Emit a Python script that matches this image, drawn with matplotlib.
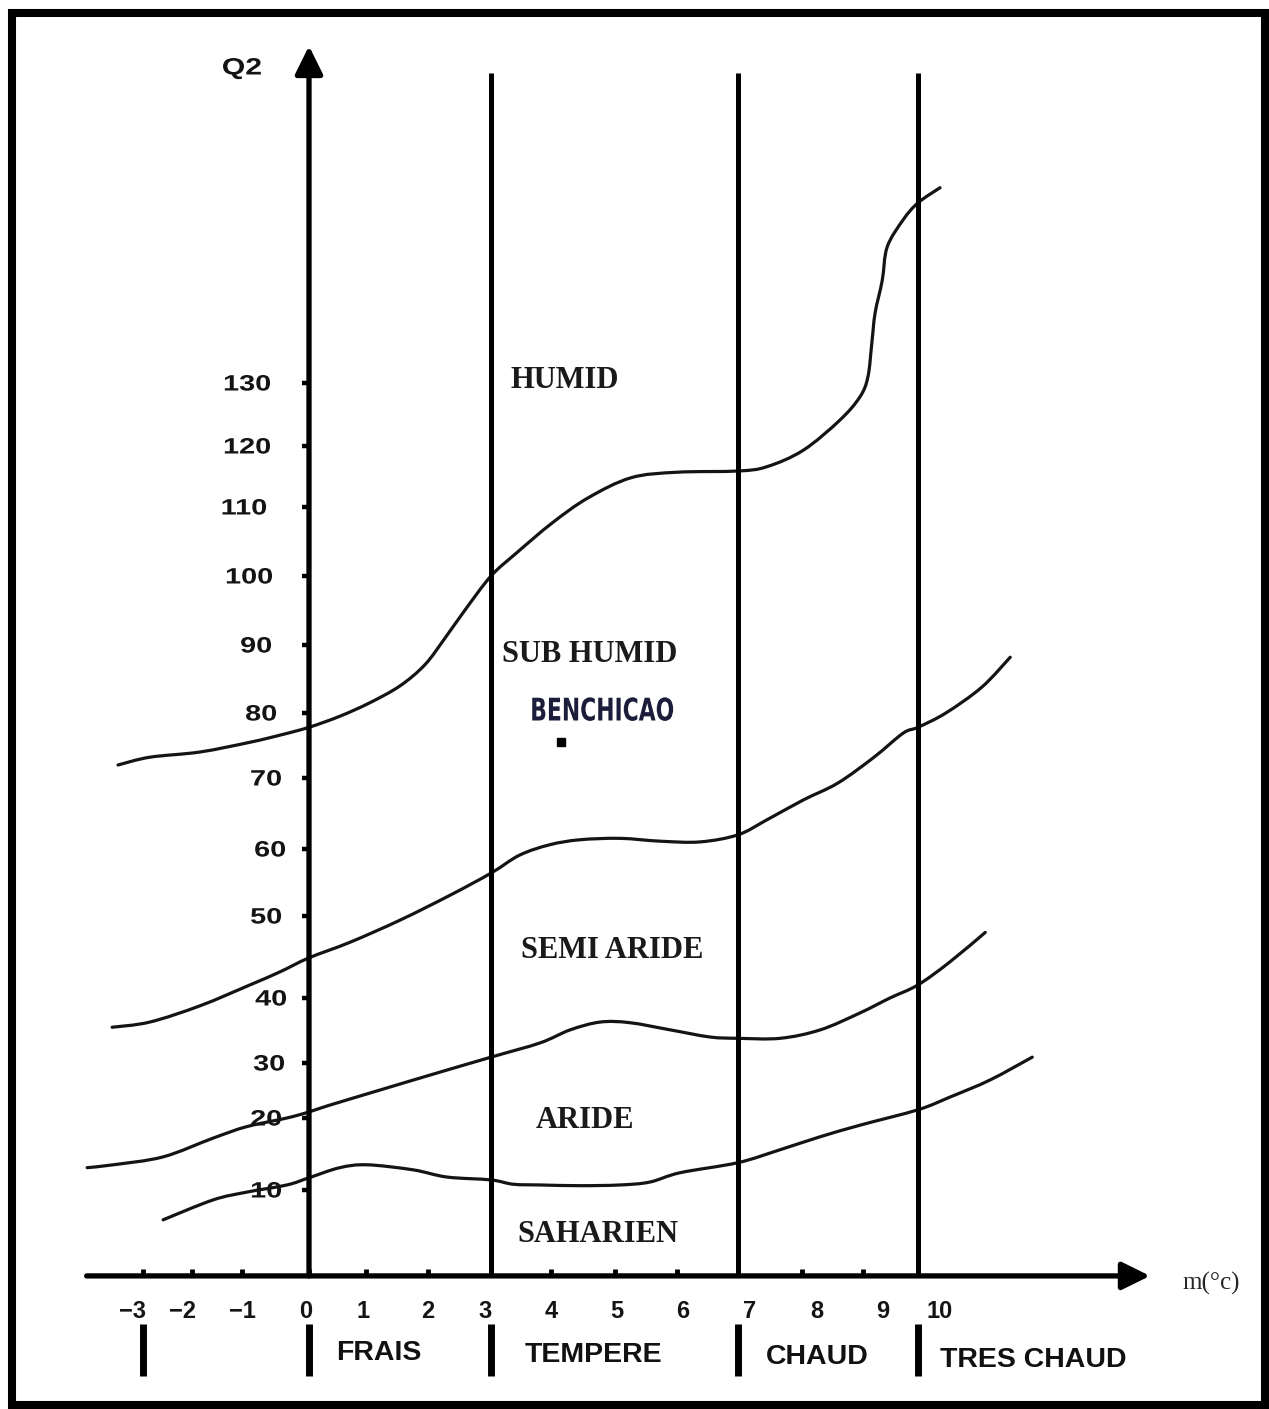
import numpy as np
import matplotlib
matplotlib.use('Agg')
import matplotlib.pyplot as plt
from matplotlib.patches import Rectangle, PathPatch
from matplotlib.path import Path
from matplotlib.patheffects import AbstractPathEffect
from matplotlib.transforms import Affine2D, blended_transform_factory

W, H = 1269, 1409

# climagramme d'Emberger : m (°C) en abscisse, Q2 en ordonnée
humid_m = [-3.51, -2.86, -1.84, -0.88, -0.43, 0.0, 0.54, 1.06, 1.55, 1.95, 2.27, 2.59,
           3.0, 3.42, 4.02, 4.58, 5.26, 6.0, 7.0, 7.45, 8.02, 8.62, 8.95, 9.09, 9.16,
           9.22, 9.35, 9.44, 9.73, 10.0, 10.38]
humid_q = [72.0, 73.2, 74.0, 75.5, 76.6, 77.8, 79.5, 81.5, 84.0, 87.1, 91.0, 95.1,
           100.0, 103.3, 107.7, 111.5, 114.8, 115.7, 115.9, 116.6, 119.3, 124.1, 127.8,
           131.0, 136.3, 141.1, 146.3, 151.6, 155.9, 158.6, 161.0]

subhumid_m = [-3.63, -2.86, -1.84, -0.88, -0.43, 0.0, 0.72, 1.55, 2.35, 3.0, 3.48, 3.98,
              4.45, 5.08, 5.73, 6.38, 7.0, 7.45, 8.02, 8.59, 9.2, 9.73, 10.0, 10.48,
              11.1, 11.59]
subhumid_q = [35.5, 36.3, 38.8, 41.6, 43.2, 44.9, 46.8, 49.5, 53.1, 56.4, 59.1, 60.6,
              61.3, 61.5, 61.1, 61.0, 62.0, 64.1, 66.9, 69.3, 73.2, 76.9, 77.8, 80.0,
              83.8, 88.2]

semiarid_m = [-4.14, -3.61, -2.59, -1.58, -0.93, -0.33, 0.0, 0.32, 1.23, 2.03, 3.0, 3.82,
              4.3, 4.77, 5.24, 5.89, 6.54, 7.0, 7.66, 8.3, 8.95, 9.49, 10.0, 10.55, 11.16]
semiarid_q = [13.1, 13.5, 14.6, 17.2, 18.8, 20.0, 21.1, 22.2, 25.1, 27.8, 30.9, 33.1,
              35.1, 36.3, 36.2, 35.1, 34.0, 33.8, 33.8, 35.1, 37.7, 40.0, 41.6, 44.4, 48.0]

arid_m = [-2.59, -1.58, -0.93, -0.33, 0.0, 0.54, 1.02, 1.76, 2.3, 3.0, 3.37, 3.82, 4.45,
          5.08, 5.56, 6.05, 7.0, 7.66, 8.3, 8.95, 10.0, 10.55, 11.24, 11.97]
arid_q = [5.8, 8.6, 9.7, 10.7, 11.7, 13.1, 13.5, 12.8, 11.8, 11.4, 10.8, 10.7, 10.6,
          10.7, 11.1, 12.4, 13.8, 15.6, 17.4, 19.0, 21.5, 23.8, 26.9, 30.9]

station_name = 'BENCHICAO'
station_m = 4.16
station_q = 75.5

q_ticks = [10, 20, 30, 40, 50, 60, 70, 80, 90, 100, 110, 120, 130]
m_ticks = [-3, -2, -1, 0, 1, 2, 3, 4, 5, 6, 7, 8, 9, 10]
m_labels = ['\u22123', '\u22122', '\u22121', '0', '1', '2', '3', '4', '5', '6', '7', '8', '9', '10']
winter_bounds = [0, 3, 7, 10]
bar_bounds = [-3, 0, 3, 7, 10]

zone_names = ['HUMID', 'SUB HUMID', 'SEMI ARIDE', 'ARIDE', 'SAHARIEN']
winter_names = ['FRAIS', 'TEMPERE', 'CHAUD', 'TRES CHAUD']

# graduations tracées à la main : espacement irrégulier
m_knots = np.array([-10, -3, -2, -1, 0, 1, 2, 3, 4, 5, 6, 7, 8, 9, 10, 25], dtype=float)
x_knots = np.array([-200, 143, 192, 242, 309, 366, 428, 491, 551, 615, 677, 738, 802,
                    863, 918, 1788], dtype=float)
q_knots = np.array([-40, 10, 20, 30, 40, 50, 60, 70, 80, 90, 100, 110, 120, 130, 260],
                   dtype=float)
y_knots = np.array([1545, 1190, 1118, 1063, 998, 916, 849, 778, 713, 645, 576, 507, 446,
                    383, -436], dtype=float)


def fx(m):
    return np.interp(m, m_knots, x_knots)


def fx_inv(p):
    return np.interp(p, x_knots, m_knots)


def fy(q):
    return np.interp(q, q_knots, -y_knots)


def fy_inv(p):
    return np.interp(p, -y_knots, q_knots)


class Stretch(AbstractPathEffect):
    """Élargit ou resserre le texte horizontalement."""

    def __init__(self, sx, anchor='center'):
        super().__init__()
        self.sx = sx
        self.anchor = anchor

    def draw_path(self, renderer, gc, tpath, affine, rgbFace=None):
        ext = affine.transform_path(tpath).get_extents()
        x0 = ext.x1 if self.anchor == 'right' else (ext.x0 + ext.x1) / 2
        aff = affine + Affine2D().translate(-x0, 0).scale(self.sx, 1).translate(x0, 0)
        renderer.draw_path(gc, tpath, aff, rgbFace)


def smooth_curve(xs, ys):
    # courbe lisse (Catmull-Rom) passant par les points, calculée dans l'espace de l'échelle
    p = np.column_stack([fx(np.asarray(xs)), fy(np.asarray(ys))])
    verts = [p[0]]
    codes = [Path.MOVETO]
    n = len(p)
    for i in range(n - 1):
        p0, p1, p2, p3 = p[max(i - 1, 0)], p[i], p[i + 1], p[min(i + 2, n - 1)]
        verts += [p1 + (p2 - p0) / 6, p2 - (p3 - p1) / 6, p2]
        codes += [Path.CURVE4] * 3
    verts = np.array(verts)
    return Path(np.column_stack([fx_inv(verts[:, 0]), fy_inv(verts[:, 1])]), codes)


fig = plt.figure(figsize=(W / 100, H / 100), dpi=100)
ax = fig.add_axes([0, 0, 1, 1])
ax.set_xscale('function', functions=(fx, fx_inv))
ax.set_yscale('function', functions=(fy, fy_inv))
ax.axis('off')

axis_q = -2.1
ink = '#141414'

# axes fléchés
arrow = dict(arrowstyle='-|>,head_length=0.85,head_width=0.42', mutation_scale=20,
             lw=3.8, color='black', shrinkA=0, shrinkB=0)
ax.annotate('', xy=(14.0, axis_q), xytext=(-4.15, axis_q), arrowprops=arrow)
ax.annotate('', xy=(0, 183.5), xytext=(0, axis_q), arrowprops=arrow)

# limites des hivers
ax.vlines(winter_bounds[1:], axis_q, 179.2, color='black', lw=3.6)

# graduations
ax.hlines(q_ticks, -0.11, 0, color='black', lw=3.2)
ax.vlines(m_ticks, axis_q, axis_q + 1.0, color='black', lw=3.5)

# courbes des étages bioclimatiques
for cm, cq in [(humid_m, humid_q), (subhumid_m, subhumid_q),
               (semiarid_m, semiarid_q), (arid_m, arid_q)]:
    ax.add_patch(PathPatch(smooth_curve(cm, cq), fill=False, ec=ink, lw=2.3,
                           capstyle='round', joinstyle='round'))

# station
ax.plot(station_m, station_q, 's', color='black', ms=5.5)

# étiquettes des graduations
q_label_dx = [-27, -27, -24, -22, -27, -23, -27, -32, -37, -36, -42, -38, -38]
for q, dx in zip(q_ticks, q_label_dx):
    ax.annotate(str(q), xy=(0, q), xytext=(dx, -2), textcoords='offset pixels',
                ha='right', va='center', fontsize=16, fontweight='bold',
                family='Liberation Sans', color=ink,
                path_effects=[Stretch(1.3, 'right')])

m_label_dx = [-10, -9, 0, -3, -3, 0, -6, 0, 2, 6, 12, 15, 20, 22]
for m, lab, dx in zip(m_ticks, m_labels, m_label_dx):
    ax.annotate(lab, xy=(m, axis_q), xytext=(dx, -36), textcoords='offset pixels',
                ha='center', va='center', fontsize=17, fontweight='bold',
                family='Liberation Sans', color=ink)

# traits sous l'axe des m
bar_tr = blended_transform_factory(ax.transData, fig.transFigure)
ax.vlines(bar_bounds, 1 - 1376 / H, 1 - 1324 / H, transform=bar_tr, color='black', lw=5)


def ftext(x, y, s, **kw):
    fig.text(x / W, 1 - y / H, s, **kw)


zone_pos = [(565, 380), (590, 655), (612, 950), (585, 1120), (598, 1235)]
for (x, y), s in zip(zone_pos, zone_names):
    ftext(x, y, s, ha='center', va='center', fontsize=22, fontweight='bold',
          family='Liberation Serif', color='#1a1a1a')

winter_pos = [(379, 1353), (593, 1355), (817, 1357), (1033, 1360)]
for (x, y), s in zip(winter_pos, winter_names):
    ftext(x, y, s, ha='center', va='center', fontsize=20.5, fontweight='bold',
          family='Liberation Sans', color='#111111')

ftext(602, 712, station_name, ha='center', va='center', fontsize=22.5, fontweight='bold',
      family='DejaVu Sans', color='#1b1d3a', path_effects=[Stretch(0.7)])
ftext(242, 68, 'Q2', ha='center', va='center', fontsize=17, fontweight='bold',
      family='Liberation Sans', color=ink, path_effects=[Stretch(1.28)])
ftext(1211, 1283, 'm(°c)', ha='center', va='center', fontsize=18,
      family='Liberation Serif', color='#262626')

# cadre
fig.patches.append(Rectangle((12 / W, 1 - 1405 / H), 1253 / W, 1392 / H,
                             transform=fig.transFigure, fill=False, lw=5.8,
                             ec='black'))

ax.set_xlim(fx_inv(0), fx_inv(W))
ax.set_ylim(fy_inv(-H), fy_inv(0))

fig.savefig('out.png', dpi=100)
